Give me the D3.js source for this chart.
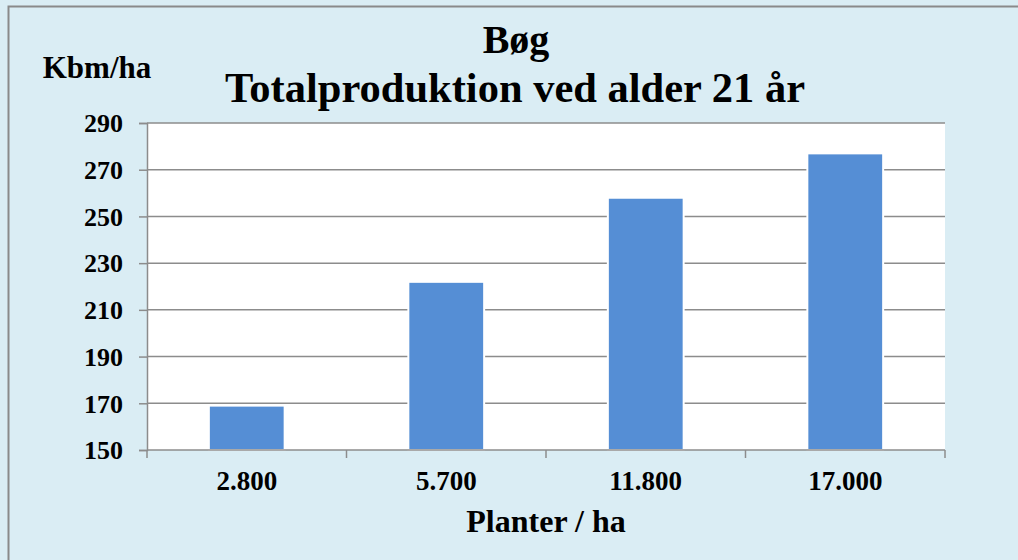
<!DOCTYPE html>
<html>
<head>
<meta charset="utf-8">
<script src="https://cdn.jsdelivr.net/npm/d3@7"></script>
<style>
  body { margin: 0; background: #daedf4; }
</style>
</head>
<body>
<svg id="chart" width="1018" height="560"></svg>
<script>
// Bøg - totalproduktion ved alder 21 år
const categories = ["2.800", "5.700", "11.800", "17.000"];
const values = [169, 222, 258, 277];
const yTicks = [150, 170, 190, 210, 230, 250, 270, 290];

const FONT = "'Liberation Serif', 'Times New Roman', serif";
const svg = d3.select("#chart");
const W = 1018, H = 560;
const margin = { left: 147, right: 73, top: 123, bottom: 110 };

// background + frame
svg.append("rect").attr("width", W).attr("height", H).attr("fill", "#daedf4");
svg.append("path")
    .attr("d", `M8.5,${H} L8.5,6.5 L${W},6.5`)
    .attr("fill", "none").attr("stroke", "#8a8a8a").attr("stroke-width", 2);

const x = d3.scaleBand()
    .domain(categories)
    .range([margin.left, W - margin.right])
    .paddingInner(0.62)
    .paddingOuter(0.31);

const y = d3.scaleLinear()
    .domain([150, 290])
    .range([H - margin.bottom, margin.top]);

// plot area
svg.append("rect")
    .attr("x", margin.left).attr("y", margin.top)
    .attr("width", W - margin.right - margin.left)
    .attr("height", H - margin.bottom - margin.top)
    .attr("fill", "#fff");

// gridlines
svg.append("g")
    .selectAll("line")
    .data(yTicks.slice(1))
    .enter()
    .append("line")
    .attr("x1", margin.left).attr("x2", W - margin.right)
    .attr("y1", d => y(d)).attr("y2", d => y(d))
    .attr("stroke", "#8c8c8c").attr("stroke-width", 1.5);

// bars
svg.append("g")
    .selectAll("rect")
    .data(values)
    .enter()
    .append("rect")
    .attr("x", (d, i) => x(categories[i]))
    .attr("width", x.bandwidth())
    .attr("y", d => y(d))
    .attr("height", d => y(150) - y(d))
    .attr("fill", "#558ed5")
    .attr("stroke", "#fff").attr("stroke-width", 2);

// y axis
const yAxis = svg.append("g")
    .attr("transform", `translate(${margin.left},0)`)
    .call(d3.axisLeft(y).tickValues(yTicks).tickSize(8).tickPadding(16));
yAxis.selectAll("text").style("font-size", "26px").attr("dy", "0.34em");
yAxis.select(".domain").attr("stroke", "#8c8c8c").attr("stroke-width", 1.5);
yAxis.selectAll(".tick line").attr("stroke", "#8c8c8c").attr("stroke-width", 1.5);

// x axis: ticks at category boundaries
const xAxisG = svg.append("g")
    .attr("transform", `translate(0,${H - margin.bottom})`);
xAxisG.append("line")
    .attr("x1", margin.left).attr("x2", W - margin.right)
    .attr("stroke", "#8c8c8c").attr("stroke-width", 1.5);
const plotW = W - margin.right - margin.left;
xAxisG.selectAll("line.tick")
    .data(d3.range(categories.length + 1))
    .enter()
    .append("line")
    .attr("class", "tick")
    .attr("x1", i => margin.left + i * plotW / categories.length)
    .attr("x2", i => margin.left + i * plotW / categories.length)
    .attr("y1", 0).attr("y2", 8)
    .attr("stroke", "#8c8c8c").attr("stroke-width", 1.5);
xAxisG.selectAll("text")
    .data(categories)
    .enter()
    .append("text")
    .attr("x", d => x(d) + x.bandwidth() / 2)
    .attr("y", 40)
    .attr("text-anchor", "middle")
    .style("font-size", "27px")
    .text(d => d);

// titles
svg.append("text")
    .attr("x", 516).attr("y", 53)
    .attr("text-anchor", "middle")
    .style("font-size", "40px")
    .text("Bøg");
svg.append("text")
    .attr("x", 515).attr("y", 102)
    .attr("text-anchor", "middle")
    .style("font-size", "42.5px")
    .text("Totalproduktion ved alder 21 år");
svg.append("text")
    .attr("x", 97).attr("y", 78)
    .attr("text-anchor", "middle")
    .style("font-size", "31px")
    .text("Kbm/ha");
svg.append("text")
    .attr("x", 546).attr("y", 532)
    .attr("text-anchor", "middle")
    .style("font-size", "32px")
    .text("Planter / ha");

svg.selectAll("text")
    .style("font-family", FONT)
    .style("font-weight", "bold")
    .attr("fill", "#000");
</script>
</body>
</html>
